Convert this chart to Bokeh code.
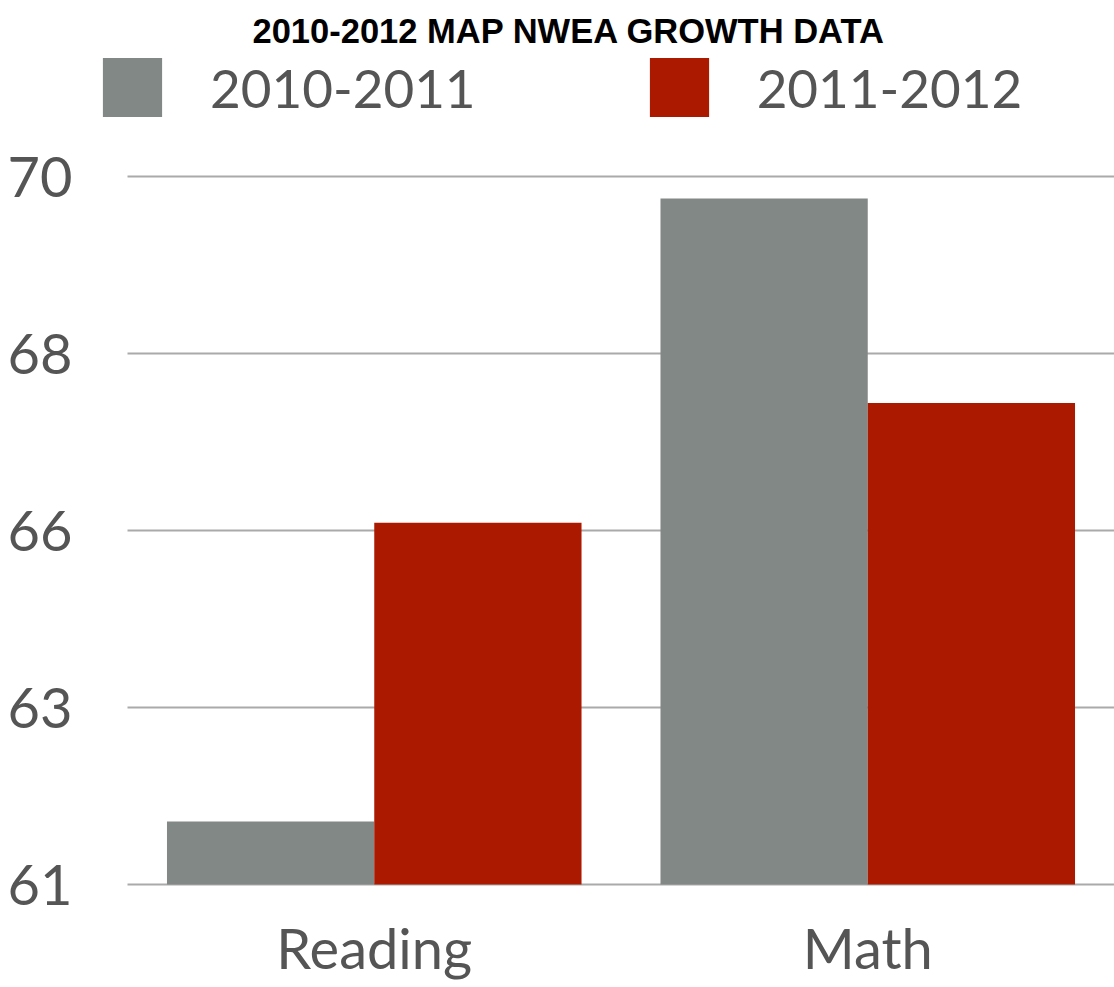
from bokeh.plotting import figure
from bokeh.models import (ColumnDataSource, Range1d, FixedTicker, Legend, LegendItem,
                          Title, Grid)
from bokeh.transform import dodge
from bokeh.embed import file_html
from bokeh.resources import INLINE

subjects = ["Reading", "Math"]
series_names = ["2010-2011", "2011-2012"]
values_2010_2011 = [61.8, 69.72]
values_2011_2012 = [65.6, 67.12]
ytick_values = [61, 63.25, 65.5, 67.75, 70]
ytick_labels = ["61", "63", "66", "68", "70"]
title_text = "2010-2012 MAP NWEA GROWTH DATA"

GREY = "#828885"
RED = "#AA1900"
TEXT = "#555555"
FONT = "Lato"

# layout geometry (pixels)
W, H = 1114, 987
TOP, BOTTOM = 56, 101
FRAME_LEFT = 95                  # frame starts here (room for legend swatch)
PLOT_LEFT = 127                  # where the category band / grid lines start
PX_PER_UNIT_Y = 708 / 9.0        # 61 -> 70 spans 708 px
PX_PER_CAT = (W - PLOT_LEFT) / len(subjects)
y_start = 61 - 2 / PX_PER_UNIT_Y
y_end = 70 + (176 - TOP) / PX_PER_UNIT_Y
x_start = -(PLOT_LEFT - FRAME_LEFT) / PX_PER_CAT
x_end = float(len(subjects))

cat_pos = [i + 0.5 for i in range(len(subjects))]
src = ColumnDataSource(dict(pos=cat_pos, a=values_2010_2011, b=values_2011_2012))

p = figure(
    x_range=Range1d(x_start, x_end),
    y_range=Range1d(y_start, y_end),
    width=W, height=H,
    output_backend="svg", toolbar_location=None,
    min_border_left=FRAME_LEFT, min_border_right=0,
    min_border_top=TOP, min_border_bottom=BOTTOM,
)
p.outline_line_color = None
p.background_fill_color = "white"

r1 = p.vbar(x=dodge("pos", -0.21), top="a", bottom=61, width=0.42,
            source=src, fill_color=GREY, line_color=None)
r2 = p.vbar(x=dodge("pos", 0.21), top="b", bottom=61, width=0.42,
            source=src, fill_color=RED, line_color=None)

p.title = Title(text=title_text, align="left", offset=157, standoff=13,
                text_font="Liberation Sans", text_font_style="bold",
                text_font_size="34.5px", text_color="black")

p.yaxis.ticker = FixedTicker(ticks=ytick_values)
p.yaxis.major_label_overrides = {v: l for v, l in zip(ytick_values, ytick_labels)}
p.yaxis.axis_line_color = None
p.yaxis.major_tick_line_color = None
p.yaxis.minor_tick_line_color = None
p.yaxis.major_label_text_font = FONT
p.yaxis.major_label_text_font_size = "56px"
p.yaxis.major_label_text_color = TEXT
p.yaxis.major_label_standoff = 17

p.xaxis.ticker = FixedTicker(ticks=cat_pos)
p.xaxis.major_label_overrides = {v: s for v, s in zip(cat_pos, subjects)}
p.xaxis.axis_line_color = None
p.xaxis.major_tick_line_color = None
p.xaxis.minor_tick_line_color = None
p.xaxis.major_label_text_font = FONT
p.xaxis.major_label_text_font_size = "56px"
p.xaxis.major_label_text_color = TEXT
p.xaxis.major_label_standoff = 21

p.xgrid.grid_line_color = None
p.ygrid.ticker = FixedTicker(ticks=ytick_values)
p.ygrid.grid_line_color = "#aaaaaa"
p.ygrid.grid_line_width = 2
if "cross_bounds" in Grid.properties():
    p.ygrid.cross_bounds = (0, x_end)

legend = Legend(
    items=[LegendItem(label=series_names[0], renderers=[r1]),
           LegendItem(label=series_names[1], renderers=[r2])],
    orientation="horizontal", location=(0, 762),
    glyph_width=74, glyph_height=74, label_text_font=FONT,
    label_text_font_size="53px", label_text_color=TEXT,
    label_standoff=41, spacing=166, padding=0, margin=0,
    border_line_color=None, background_fill_alpha=0,
)
p.add_layout(legend, "center")

open("out.html", "w").write(file_html(p, INLINE))
